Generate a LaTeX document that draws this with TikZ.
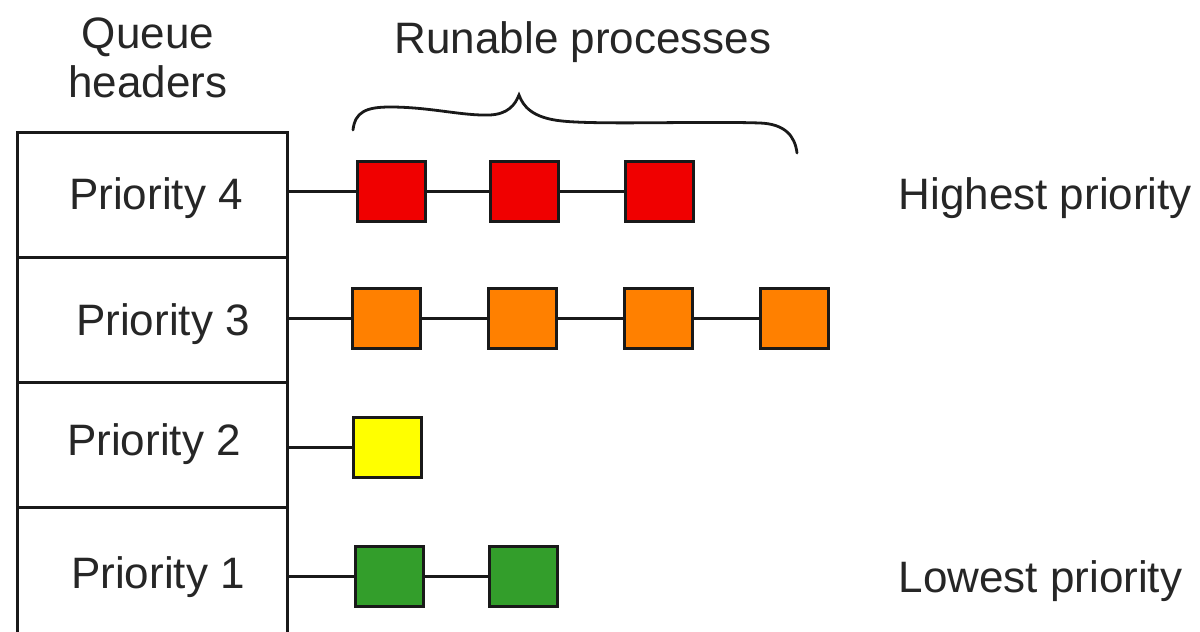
\documentclass[tikz,border=0pt]{standalone}
\usepackage{fontspec}
\setmainfont{Liberation Sans}
\begin{document}
\begin{tikzpicture}[x=1pt,y=-1pt,
  every node/.style={font=\fontsize{44}{52}\selectfont, text=black!85},
  header/.style={draw=black!90, line width=3pt, minimum width=270pt, minimum height=125pt, inner sep=0pt, anchor=north west},
  proc/.style={draw=black!90, line width=3pt, minimum width=68pt, minimum height=60pt, inner sep=0pt},
  link/.style={draw=black!90, line width=3pt},
  brace/.style={draw=black!90, line width=2.8pt, line cap=round}]
\useasboundingbox (0,0) rectangle (1200,632);
\clip (0,0) rectangle (1200,632);
\fill[white] (0,0) rectangle (1200,632);

\definecolor{procred}{RGB}{240,0,0}
\definecolor{procorange}{RGB}{255,128,0}
\definecolor{procyellow}{RGB}{255,255,0}
\definecolor{procgreen}{RGB}{51,158,43}

% queue header column
\node[header] (h4) at (16,131) {};
\node[header] (h3) at (16,256) {};
\node[header] (h2) at (16,381) {};
\node[header, minimum height=160pt] (h1) at (16,506) {};

\node (t4) at (156,198) {Priority 4};
\node (t3) at (163,324) {Priority 3};
\node (t2) at (154,444) {Priority 2};
\node (t1) at (158,577) {Priority 1};

% titles
\node (qh1) at (148,37) {Queue};
\node (qh2) at (148,82) {headers};
\node (rp) at (583,42) {Runable processes};
\node[anchor=west] (hi) at (895,198) {Highest priority};
\node[anchor=west] (lo) at (895,581) {Lowest priority};

% runnable processes
\node[proc, fill=procred] (r1) at (391,191) {};
\node[proc, fill=procred] (r2) at (524,191) {};
\node[proc, fill=procred] (r3) at (659,191) {};

\node[proc, fill=procorange] (o1) at (386,318) {};
\node[proc, fill=procorange] (o2) at (522,318) {};
\node[proc, fill=procorange] (o3) at (658,318) {};
\node[proc, fill=procorange] (o4) at (794,318) {};

\node[proc, fill=procyellow] (y1) at (387,447) {};

\node[proc, fill=procgreen] (g1) at (389,576) {};
\node[proc, fill=procgreen] (g2) at (523,576) {};

% links
\draw[link] (h4.east |- r1.west) -- (r1.west);
\draw[link] (r1) -- (r2) (r2) -- (r3);
\draw[link] (h3.east |- o1.west) -- (o1.west);
\draw[link] (o1) -- (o2) (o2) -- (o3) (o3) -- (o4);
\draw[link] (h2.east |- y1.west) -- (y1.west);
\draw[link] (h1.east |- g1.west) -- (g1.west);
\draw[link] (g1) -- (g2);

% curly brace over the processes
\draw[brace] (353,130) .. controls (355,112) and (366,107) .. (390,107)
  .. controls (430,107) and (462,116) .. (490,115)
  .. controls (508,114) and (515,105) .. (519,95)
  .. controls (523,106) and (532,118) .. (562,121)
  .. controls (600,125) and (700,121) .. (760,123)
  .. controls (785,124) and (795,136) .. (797,153);
\end{tikzpicture}
\end{document}
